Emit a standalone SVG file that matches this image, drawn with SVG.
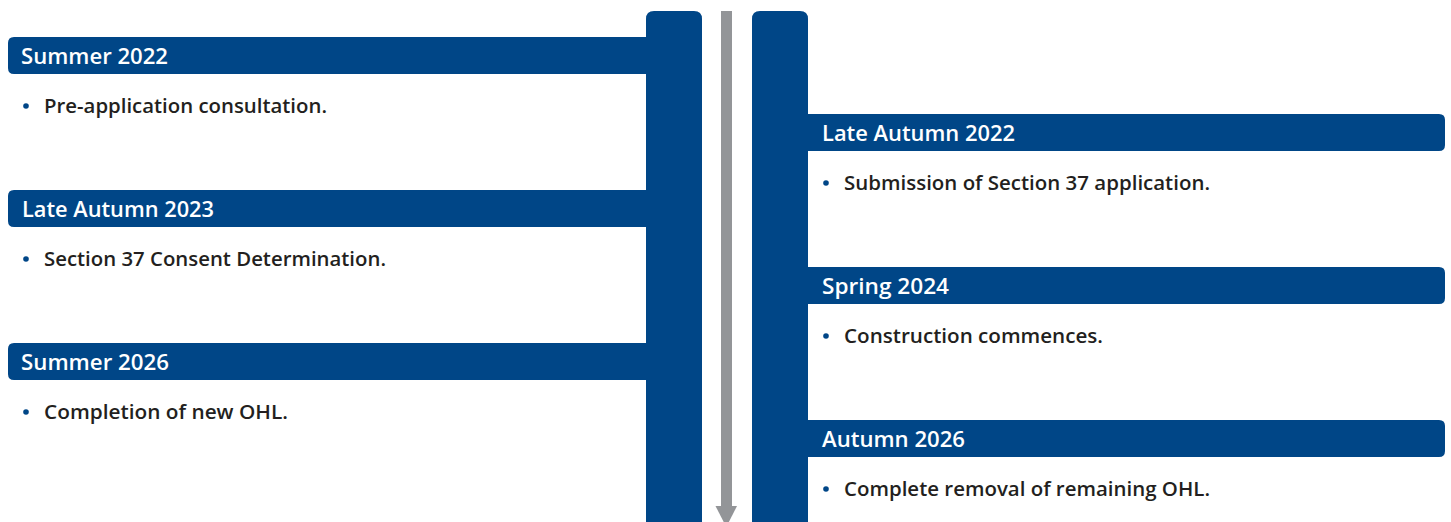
<svg xmlns="http://www.w3.org/2000/svg" width="1451" height="522" viewBox="0 0 1451 522">
  <style>
    .bar { fill: #004687; }
    .head { font-family: "Open Sans", "Liberation Sans", sans-serif; font-weight: 600; font-size: 21.5px; fill: #ffffff; }
    .body { font-family: "Open Sans", "Liberation Sans", sans-serif; font-weight: 600; font-size: 20.5px; fill: #231f20; }
    .dot { fill: #004687; }
  </style>
  <rect width="1451" height="522" fill="#ffffff"/>

  <!-- timeline spines -->
  <g id="spines">
    <path class="bar" d="M646,530 V19 Q646,11 654,11 H694 Q702,11 702,19 V530 Z"/>
    <path class="bar" d="M752,530 V19 Q752,11 760,11 H800 Q808,11 808,19 V530 Z"/>
  </g>

  <!-- direction arrow -->
  <g id="connectors">
    <rect x="721" y="11" width="11" height="496" fill="#939598"/>
    <polygon points="715.5,506 737,506 726.3,527" fill="#939598"/>
  </g>

  <!-- left column milestones -->
  <g id="summer-2022">
    <path class="bar" d="M648,37 V74 H14 Q8,74 8,68 V43 Q8,37 14,37 Z"/>
    <text class="head" x="21" y="64" textLength="147" lengthAdjust="spacingAndGlyphs">Summer 2022</text>
    <circle class="dot" cx="26" cy="106" r="2.8"/>
    <text class="body" x="44" y="112.5" textLength="283" lengthAdjust="spacingAndGlyphs">Pre-application consultation.</text>
  </g>
  <g id="late-autumn-2023">
    <path class="bar" d="M648,190 V227 H14 Q8,227 8,221 V196 Q8,190 14,190 Z"/>
    <text class="head" x="22" y="217" textLength="192" lengthAdjust="spacingAndGlyphs">Late Autumn 2023</text>
    <circle class="dot" cx="26" cy="259" r="2.8"/>
    <text class="body" x="44" y="265.5" textLength="342" lengthAdjust="spacingAndGlyphs">Section 37 Consent Determination.</text>
  </g>
  <g id="summer-2026">
    <path class="bar" d="M648,343 V380 H14 Q8,380 8,374 V349 Q8,343 14,343 Z"/>
    <text class="head" x="21" y="370" textLength="148" lengthAdjust="spacingAndGlyphs">Summer 2026</text>
    <circle class="dot" cx="26" cy="412" r="2.8"/>
    <text class="body" x="44" y="418.5" textLength="244" lengthAdjust="spacingAndGlyphs">Completion of new OHL.</text>
  </g>

  <!-- right column milestones -->
  <g id="late-autumn-2022">
    <path class="bar" d="M806,114 H1439 Q1445,114 1445,120 V145 Q1445,151 1439,151 H806 Z"/>
    <text class="head" x="822" y="141" textLength="193" lengthAdjust="spacingAndGlyphs">Late Autumn 2022</text>
    <circle class="dot" cx="826" cy="183" r="2.8"/>
    <text class="body" x="844" y="189.5" textLength="366" lengthAdjust="spacingAndGlyphs">Submission of Section 37 application.</text>
  </g>
  <g id="spring-2024">
    <path class="bar" d="M806,267 H1439 Q1445,267 1445,273 V298 Q1445,304 1439,304 H806 Z"/>
    <text class="head" x="822" y="294" textLength="127" lengthAdjust="spacingAndGlyphs">Spring 2024</text>
    <circle class="dot" cx="826" cy="336" r="2.8"/>
    <text class="body" x="844" y="342.5" textLength="259" lengthAdjust="spacingAndGlyphs">Construction commences.</text>
  </g>
  <g id="autumn-2026">
    <path class="bar" d="M806,420 H1439 Q1445,420 1445,426 V451 Q1445,457 1439,457 H806 Z"/>
    <text class="head" x="822" y="447" textLength="143" lengthAdjust="spacingAndGlyphs">Autumn 2026</text>
    <circle class="dot" cx="826" cy="489" r="2.8"/>
    <text class="body" x="844" y="495.5" textLength="366" lengthAdjust="spacingAndGlyphs">Complete removal of remaining OHL.</text>
  </g>
</svg>
